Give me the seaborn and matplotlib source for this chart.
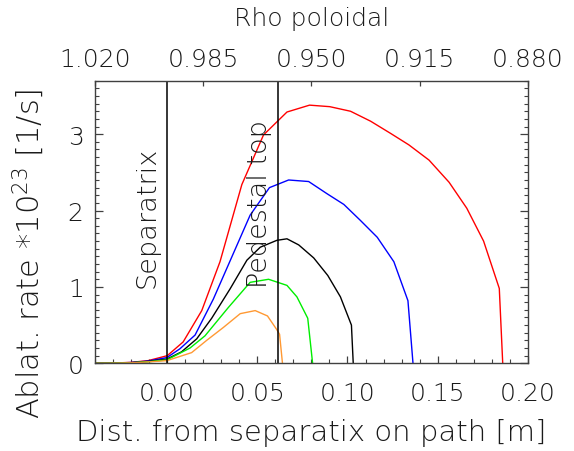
import numpy as np
import pandas as pd
import matplotlib
matplotlib.use("Agg")
import matplotlib.pyplot as plt
import seaborn as sns
from matplotlib.ticker import MultipleLocator, FixedLocator

# ---- data ----
red_x = [-0.040, -0.030, -0.020, -0.0104, 0.0002, 0.009, 0.0193, 0.0294, 0.0415, 0.0535, 0.0665,
         0.079, 0.0902, 0.1017, 0.1128, 0.1239, 0.134, 0.1452, 0.1563, 0.1661, 0.1754, 0.1841, 0.186]
red_y = [0.0, 0.003, 0.012, 0.035, 0.10, 0.28, 0.69, 1.33, 2.34, 2.99, 3.29,
         3.38, 3.36, 3.30, 3.17, 3.01, 2.86, 2.66, 2.37, 2.03, 1.60, 0.98, 0.0]

blue_x = [-0.040, -0.030, -0.020, -0.0104, 0.0, 0.0072, 0.0156, 0.0257, 0.0461, 0.0568, 0.0674,
          0.0785, 0.0887, 0.098, 0.1072, 0.1165, 0.1257, 0.1335, 0.1363]
blue_y = [0.0, 0.003, 0.010, 0.030, 0.075, 0.19, 0.37, 0.84, 1.94, 2.30, 2.40,
          2.38, 2.22, 2.08, 1.87, 1.65, 1.33, 0.82, 0.0]

black_x = [-0.040, -0.030, -0.020, -0.0104, 0.0, 0.0081, 0.0165, 0.0248, 0.035, 0.0443, 0.0517,
           0.0609, 0.0665, 0.073, 0.0813, 0.0891, 0.0961, 0.1022, 0.1032]
black_y = [0.0, 0.002, 0.008, 0.025, 0.055, 0.15, 0.32, 0.59, 0.975, 1.35, 1.52,
           1.61, 1.63, 1.55, 1.38, 1.15, 0.87, 0.50, 0.0]

green_x = [-0.040, -0.030, -0.020, -0.0104, 0.0, 0.0128, 0.0211, 0.034, 0.0461, 0.0563, 0.0665,
           0.072, 0.078, 0.0807]
green_y = [0.0, 0.002, 0.007, 0.020, 0.045, 0.20, 0.36, 0.73, 1.06, 1.10, 1.02,
           0.87, 0.59, 0.0]

orange_x = [-0.040, -0.030, -0.020, -0.0104, 0.0, 0.0137, 0.022, 0.0313, 0.0406, 0.0489, 0.0557,
            0.0606, 0.0624, 0.0640]
orange_y = [0.0, 0.002, 0.006, 0.018, 0.035, 0.14, 0.30, 0.47, 0.65, 0.69, 0.62,
            0.45, 0.38, 0.0]

separatrix_x = 0.0
pedestal_x = 0.0615

bottom_ticks = [0.00, 0.05, 0.10, 0.15, 0.20]
bottom_labels = ["0.00", "0.05", "0.10", "0.15", "0.20"]
top_ticks = [-0.04, 0.02, 0.08, 0.14, 0.20]
top_labels = ["1.020", "0.985", "0.950", "0.915", "0.880"]
y_ticks = [0, 1, 2, 3]

series = [
    (red_x, red_y, "#ff0000"),
    (blue_x, blue_y, "#0000ff"),
    (black_x, black_y, "#000000"),
    (green_x, green_y, "#00ee00"),
    (orange_x, orange_y, "#ff9933"),
]

# ---- figure ----
sns.set_theme(style="white")
plt.rcParams["font.family"] = ["DejaVu Sans"]
plt.rcParams["font.weight"] = "light"
plt.rcParams["axes.labelweight"] = "light"
plt.rcParams["mathtext.default"] = "regular"
FS = 18
FL = 19.5
TXT = "#1a1a1a"

fig = plt.figure(figsize=(5.74, 4.52), dpi=100)
ax = fig.add_axes([94.7 / 574, 1 - 364.3 / 452, (528 - 94.7) / 574, (364.3 - 81.7) / 452])

for xs, ys, c in series:
    df = pd.DataFrame({"x": xs, "y": ys})
    sns.lineplot(data=df, x="x", y="y", ax=ax, color=c, linewidth=1.0,
                 sort=False, estimator=None)

ax.axvline(separatrix_x, color="black", linewidth=1.1)
ax.axvline(pedestal_x, color="black", linewidth=1.1)

ax.set_xlim(-0.04, 0.20)
ax.set_ylim(0, 3.7)

ax.xaxis.set_major_locator(FixedLocator(bottom_ticks))
ax.set_xticklabels(bottom_labels)
ax.xaxis.set_minor_locator(MultipleLocator(0.01))
ax.yaxis.set_major_locator(FixedLocator(y_ticks))
ax.yaxis.set_minor_locator(MultipleLocator(0.1))

ax.tick_params(axis="x", which="major", direction="in", length=5, width=0.9,
               color="#404040", labelsize=FS, labelcolor=TXT, pad=13, top=False)
ax.tick_params(axis="x", which="minor", direction="in", length=2.8, width=0.8,
               color="#404040", top=False)
ax.tick_params(axis="y", which="major", direction="in", length=5.8, width=0.9,
               color="#404040", labelsize=FS, labelcolor=TXT, pad=8, right=True, left=True)
ax.tick_params(axis="y", which="minor", direction="in", length=2.9, width=0.8,
               color="#404040", right=True, left=True)

for s in ax.spines.values():
    s.set_color("#404040")
    s.set_linewidth(1.0)
    s.set_visible(True)

ax.set_xlabel("Dist. from separatix on path [m]", fontsize=21, color=TXT, labelpad=9,
              fontweight="light")
ax.set_ylabel("Ablat. rate *10$^{23}$ [1/s]", fontsize=22, color=TXT,
              fontweight="light")
ax.yaxis.set_label_coords(-0.112, 0.39)

ax.text(separatrix_x - 0.0038, 1.0, "Separatrix", rotation=90, ha="right", va="bottom",
        fontsize=FL, color=TXT, fontweight="light")
ax.text(pedestal_x - 0.0032, 1.0, "Pedestal top", rotation=90, ha="right", va="bottom",
        fontsize=FL, color=TXT, fontweight="light")

# top axis: rho poloidal
ax2 = ax.twiny()
ax2.set_xlim(ax.get_xlim())
ax2.xaxis.set_major_locator(FixedLocator(top_ticks))
ax2.set_xticklabels(top_labels)
ax2.tick_params(axis="x", which="major", direction="in", length=3.6, width=0.9,
                color="#404040", labelsize=FS, labelcolor=TXT, pad=7)
ax2.set_xlabel("Rho poloidal", fontsize=FS, color=TXT, labelpad=16, fontweight="light")
for s in ax2.spines.values():
    s.set_visible(False)

fig.savefig("out.png", dpi=100, facecolor="white")
